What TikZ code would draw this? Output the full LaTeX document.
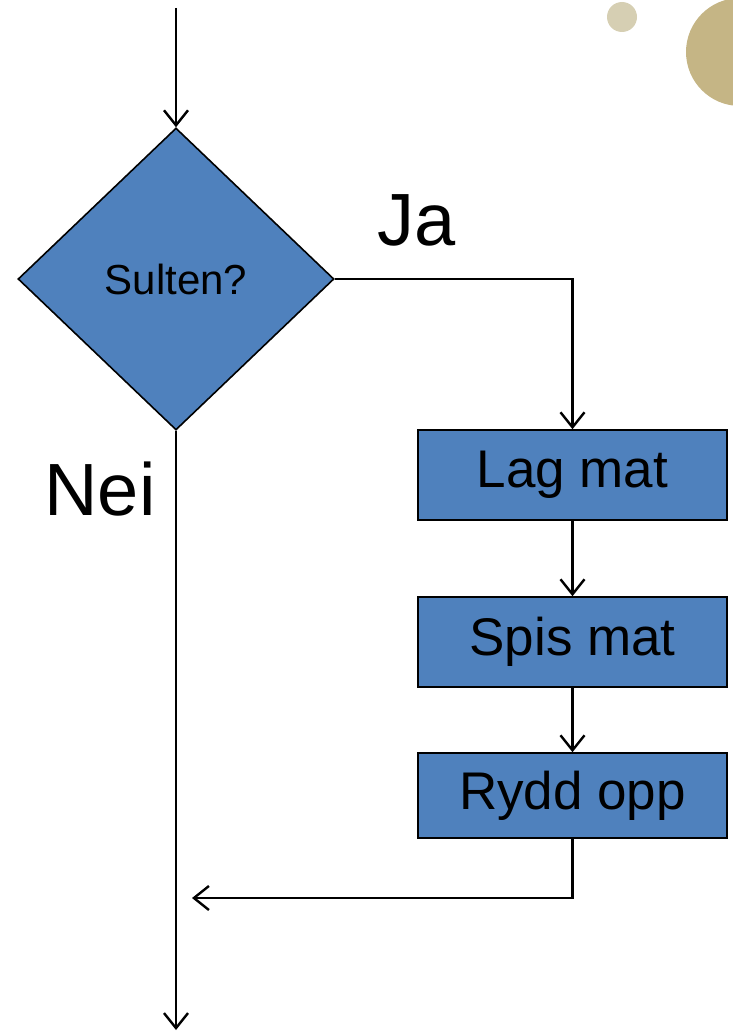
\documentclass[tikz,border=0pt]{standalone}
\usepackage{fontspec}
\setmainfont{Liberation Sans}
\usetikzlibrary{shapes.geometric,arrows.meta}
\definecolor{boxblue}{HTML}{4F81BD}
\definecolor{beigeA}{HTML}{D6CFB3}
\definecolor{beigeB}{HTML}{C5B585}
\begin{document}
\begin{tikzpicture}[x=1pt,y=-1pt,
  flowline/.style={line width=2.4pt,-{Straight Barb[length=15pt,width=24pt,line width=2.4pt]}},
  stepbox/.style={draw=black,line width=1.6pt,fill=boxblue,minimum width=309pt,minimum height=90pt,inner sep=0pt,font=\fontsize{53}{64}\selectfont},
  decision/.style={diamond,draw=black,line width=1.6pt,fill=boxblue,minimum width=316pt,minimum height=302pt,inner sep=0pt,font=\fontsize{42}{50}\selectfont},
  biglabel/.style={font=\fontsize{74}{88}\selectfont,inner sep=0pt}]
\useasboundingbox (0,0) rectangle (732,1033);
\fill[beigeA] (622,17) circle (15);
\fill[beigeB] (740,52) circle (54);
\coordinate (start) at (176,8);
\node[decision] (d) at (176,279) {\raisebox{-4pt}{Sulten?}};
\node[stepbox] (lag) at (572.5,475) {Lag mat};
\node[stepbox] (spis) at (572.5,642) {Spis mat};
\node[stepbox,minimum height=85pt] (rydd) at (572.5,795.5) {Rydd opp};
\coordinate (join) at (192,898);
\coordinate (end) at (176,1030);
\node[biglabel] (ja) at (417,220) {Ja};
\node[biglabel] (nei) at (100,489) {Nei};
\draw[flowline] (start) -- (d.north);
\draw[flowline] (d.east) -| (lag.north);
\draw[flowline] (lag) -- (spis);
\draw[flowline] (spis) -- (rydd);
\draw[flowline] (rydd.south) |- (join);
\draw[flowline] (d.south) -- (end);
\end{tikzpicture}
\end{document}
